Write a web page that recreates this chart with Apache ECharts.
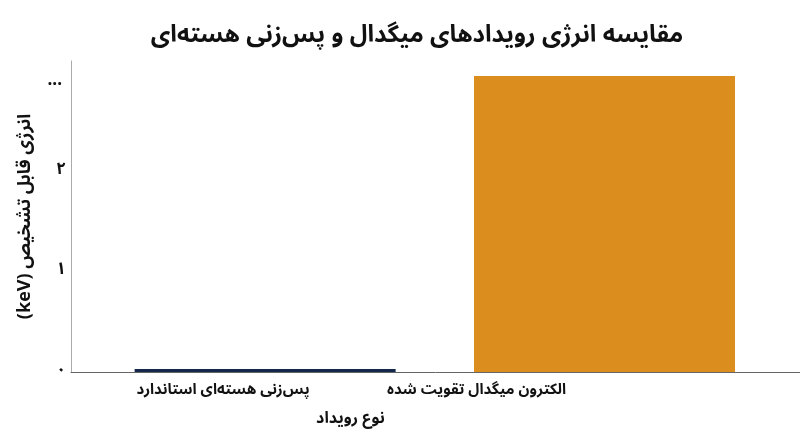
<!DOCTYPE html>
<html><head><meta charset="utf-8">
<script src="https://cdn.jsdelivr.net/npm/echarts@6/dist/echarts.min.js"></script>
<style>html,body{margin:0;padding:0;background:#fff}#c{width:800px;height:447px}</style>
</head><body><div id="c"></div>
<script>
const categories = ['پس‌زنی هسته‌ای استاندارد', 'الکترون میگدال تقویت شده'];
const energies = [0.03, 2.95];
const barColors = ['#14284b', '#db8e1d'];
const yTickValues = [0, 1, 2, 3];
const yTickLabels = ['۰', '۱', '۲', '...'];
const FONT = "'Noto Sans Arabic','DejaVu Sans',sans-serif";

const chart = echarts.init(document.getElementById('c'));
chart.setOption({
  animation: false,
  title: {
    text: 'مقایسه انرژی رویدادهای میگدال و پس‌زنی هسته‌ای',
    left: 412, top: 21, textAlign: 'center',
    textStyle: { fontFamily: FONT, fontSize: 24, fontWeight: 'bold', color: '#111' }
  },
  grid: { left: 71, right: 0, top: 61, bottom: 75 },
  xAxis: {
    type: 'value', min: -0.572, max: 1.576,
    name: 'نوع رویداد', nameLocation: 'middle', nameGap: 41,
    nameTextStyle: { fontFamily: FONT, fontSize: 16, fontWeight: 'bold', color: '#111', padding: [0, 170, 0, 0] },
    axisLine: { show: true, lineStyle: { color: '#666', width: 1 } },
    axisTick: { show: false },
    splitLine: { show: false },
    axisLabel: {
      customValues: [0, 1],
      margin: 12,
      formatter: v => '{l' + Math.round(v) + '|' + categories[Math.round(v)] + '}',
      rich: {
        l0: { fontFamily: FONT, fontSize: 15, fontWeight: 'bold', color: '#111', padding: [0, 84, 0, 0] },
        l1: { fontFamily: FONT, fontSize: 15, fontWeight: 'bold', color: '#111', padding: [0, 256, 0, 0] }
      }
    }
  },
  yAxis: {
    type: 'value', min: 0, max: 3.1,
    name: '\u202Bانرژی قابل تشخیص (keV)\u202C', nameLocation: 'middle', nameGap: 33,
    nameTextStyle: { fontFamily: FONT, fontSize: 18, fontWeight: 'bold', color: '#111' },
    axisLine: { show: true, onZero: false, lineStyle: { color: '#aaa', width: 1 } },
    axisTick: { show: false },
    splitLine: { show: false },
    axisLabel: {
      customValues: yTickValues,
      margin: 5,
      formatter: v => {
        const i = yTickValues.indexOf(Math.round(v));
        return i === 3 ? '{d|' + yTickLabels[i] + '}' : yTickLabels[i];
      },
      fontFamily: FONT, fontSize: 17, fontWeight: 'bold', color: '#111',
      rich: { d: { fontFamily: FONT, fontSize: 17, fontWeight: 'bold', color: '#111', padding: [22, 4, 0, 0] } }
    }
  },
  series: [{
    type: 'bar',
    barWidth: 261,
    data: energies.map((v, i) => ({ value: [i, v], itemStyle: { color: barColors[i] } }))
  }]
});
</script></body></html>
